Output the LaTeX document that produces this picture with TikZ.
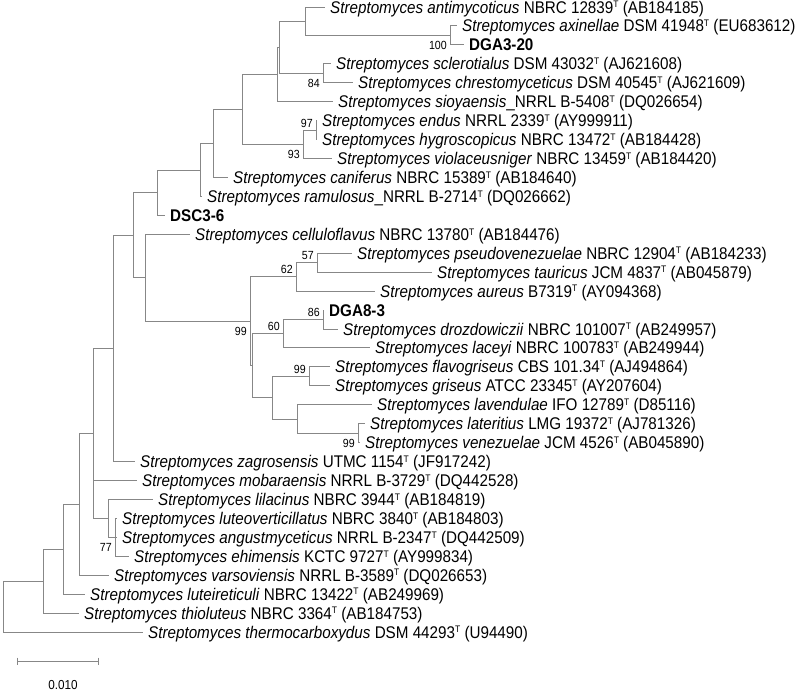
\documentclass[tikz,border=0pt]{standalone}
\usepackage{fontspec}
\setmainfont{Liberation Sans}[FakeStretch=0.9]
\newcommand\supT{\raisebox{5.3pt}{\fontsize{9.5}{10}\selectfont T}}
\newcommand\Sp[1]{\textit{Streptomyces #1}}
\definecolor{brgray}{RGB}{135,135,135}
\begin{document}
\begin{tikzpicture}[x=1pt,y=-1pt,
  br/.style={draw=brgray,line width=1pt},
  leaf/.style={anchor=base west,inner sep=0pt,yshift=-6pt,font=\fontsize{16.9}{18}\selectfont},
  bsa/.style={anchor=base east,inner sep=0pt,xshift=-3pt,yshift=3pt,font=\fontsize{11.8}{13}\selectfont},
  bsb/.style={anchor=base east,inner sep=0pt,xshift=-3pt,yshift=-14pt,font=\fontsize{11.8}{13}\selectfont}]
\path[use as bounding box] (0,0) rectangle (795,691);
% ---- leaves: line end coordinate + text
\coordinate (l0) at (325,7);      \node[leaf] (t0) at (330,7) {\Sp{antimycoticus} NBRC 12839\supT{} (AB184185)};
\coordinate (l1) at (457,25.9);   \node[leaf] (t1) at (462,25.9) {\Sp{axinellae} DSM 41948\supT{} (EU683612)};
\coordinate (l2) at (464,44.9);   \node[leaf] (t2) at (469,44.9) {\textbf{DGA3-20}};
\coordinate (l3) at (331,63.8);   \node[leaf] (t3) at (336,63.8) {\Sp{sclerotialus} DSM 43032\supT{} (AJ621608)};
\coordinate (l4) at (353,82.8);   \node[leaf] (t4) at (358,82.8) {\Sp{chrestomyceticus} DSM 40545\supT{} (AJ621609)};
\coordinate (l5) at (333,101.7);  \node[leaf] (t5) at (338,101.7) {\Sp{sioyaensis}\_NRRL B-5408\supT{} (DQ026654)};
\coordinate (l6) at (317,120.6);  \node[leaf] (t6) at (322,120.6) {\Sp{endus} NRRL 2339\supT{} (AY999911)};
\coordinate (l7) at (317,139.6);  \node[leaf] (t7) at (322,139.6) {\Sp{hygroscopicus} NBRC 13472\supT{} (AB184428)};
\coordinate (l8) at (332,158.5);  \node[leaf] (t8) at (337,158.5) {\Sp{violaceusniger} NBRC 13459\supT{} (AB184420)};
\coordinate (l9) at (228,177.5);  \node[leaf] (t9) at (233,177.5) {\Sp{caniferus} NBRC 15389\supT{} (AB184640)};
\coordinate (l10) at (202,196.4); \node[leaf] (t10) at (207,196.4) {\Sp{ramulosus}\_NRRL B-2714\supT{} (DQ026662)};
\coordinate (l11) at (165,215.3); \node[leaf] (t11) at (170,215.3) {\textbf{DSC3-6}};
\coordinate (l12) at (190,234.3); \node[leaf] (t12) at (195,234.3) {\Sp{celluloflavus} NBRC 13780\supT{} (AB184476)};
\coordinate (l13) at (352,253.2); \node[leaf] (t13) at (357,253.2) {\Sp{pseudovenezuelae} NBRC 12904\supT{} (AB184233)};
\coordinate (l14) at (432,272.2); \node[leaf] (t14) at (437,272.2) {\Sp{tauricus} JCM 4837\supT{} (AB045879)};
\coordinate (l15) at (375,291.1); \node[leaf] (t15) at (380,291.1) {\Sp{aureus} B7319\supT{} (AY094368)};
\coordinate (l16) at (324,310);   \node[leaf] (t16) at (329,310) {\textbf{DGA8-3}};
\coordinate (l17) at (338,329);   \node[leaf] (t17) at (343,329) {\Sp{drozdowiczii} NBRC 101007\supT{} (AB249957)};
\coordinate (l18) at (370,347.9); \node[leaf] (t18) at (375,347.9) {\Sp{laceyi} NBRC 100783\supT{} (AB249944)};
\coordinate (l19) at (330,366.9); \node[leaf] (t19) at (335,366.9) {\Sp{flavogriseus} CBS 101.34\supT{} (AJ494864)};
\coordinate (l20) at (330,385.8); \node[leaf] (t20) at (335,385.8) {\Sp{griseus} ATCC 23345\supT{} (AY207604)};
\coordinate (l21) at (372,404.7); \node[leaf] (t21) at (377,404.7) {\Sp{lavendulae} IFO 12789\supT{} (D85116)};
\coordinate (l22) at (365,423.7); \node[leaf] (t22) at (370,423.7) {\Sp{lateritius} LMG 19372\supT{} (AJ781326)};
\coordinate (l23) at (360,442.6); \node[leaf] (t23) at (365,442.6) {\Sp{venezuelae} JCM 4526\supT{} (AB045890)};
\coordinate (l24) at (135,461.6); \node[leaf] (t24) at (140,461.6) {\Sp{zagrosensis} UTMC 1154\supT{} (JF917242)};
\coordinate (l25) at (137,480.5); \node[leaf] (t25) at (142,480.5) {\Sp{mobaraensis} NRRL B-3729\supT{} (DQ442528)};
\coordinate (l26) at (153,499.4); \node[leaf] (t26) at (158,499.4) {\Sp{lilacinus} NBRC 3944\supT{} (AB184819)};
\coordinate (l27) at (117,518.4); \node[leaf] (t27) at (122,518.4) {\Sp{luteoverticillatus} NBRC 3840\supT{} (AB184803)};
\coordinate (l28) at (117,537.3); \node[leaf] (t28) at (122,537.3) {\Sp{angustmyceticus} NRRL B-2347\supT{} (DQ442509)};
\coordinate (l29) at (129,556.3); \node[leaf] (t29) at (134,556.3) {\Sp{ehimensis} KCTC 9727\supT{} (AY999834)};
\coordinate (l30) at (109,575.2); \node[leaf] (t30) at (114,575.2) {\Sp{varsoviensis} NRRL B-3589\supT{} (DQ026653)};
\coordinate (l31) at (85,594.1);  \node[leaf] (t31) at (90,594.1) {\Sp{luteireticuli} NBRC 13422\supT{} (AB249969)};
\coordinate (l32) at (79,613.1);  \node[leaf] (t32) at (84,613.1) {\Sp{thioluteus} NBRC 3364\supT{} (AB184753)};
\coordinate (l33) at (143,632);   \node[leaf] (t33) at (148,632) {\Sp{thermocarboxydus} DSM 44293\supT{} (U94490)};
% ---- internal nodes
\coordinate (nAa) at (450,35.4);
\coordinate (nA) at (305,21.2);
\coordinate (nSc) at (323,73.3);
\coordinate (nB) at (279,47.25);
\coordinate (nC) at (277,74.5);
\coordinate (nEH) at (316,130.1);
\coordinate (nEHV) at (303,144.3);
\coordinate (nD) at (242,109.4);
\coordinate (nE) at (213,143.5);
\coordinate (nF) at (200,170);
\coordinate (nG) at (157,192.6);
\coordinate (nP57) at (317,262.7);
\coordinate (nP) at (296,276.9);
\coordinate (nS) at (323,319.5);
\coordinate (nR) at (283,333.7);
\coordinate (nU) at (309,376.4);
\coordinate (nW) at (358,433.2);
\coordinate (nV) at (297,419);
\coordinate (nT) at (272,397.7);
\coordinate (nQ) at (252,365.7);
\coordinate (nO) at (250,321.3);
\coordinate (nN) at (145,277.8);
\coordinate (nH) at (133,235.2);
\coordinate (nI) at (113,348.4);
\coordinate (nX) at (115,537.3);
\coordinate (nLil) at (108,518.4);
\coordinate (nJ) at (93,433.4);
\coordinate (nK) at (79,504.3);
\coordinate (nL) at (63,549.2);
\coordinate (nM) at (43,581.2);
\coordinate (nR0) at (3,606.6);
% ---- branches
\draw[br] (nAa) |- (l1);  \draw[br] (nAa) |- (l2);
\draw[br] (nA) |- (l0);   \draw[br] (nA) |- (nAa);
\draw[br] (nSc) |- (l3);  \draw[br] (nSc) |- (l4);
\draw[br] (nB) |- (nA);   \draw[br] (nB) |- (nSc);
\draw[br] (nC) |- (nB);   \draw[br] (nC) |- (l5);
\draw[br] (nEH) |- (l6);  \draw[br] (nEH) |- (l7);
\draw[br] (nEHV) |- (nEH); \draw[br] (nEHV) |- (l8);
\draw[br] (nD) |- (nC);   \draw[br] (nD) |- (nEHV);
\draw[br] (nE) |- (nD);   \draw[br] (nE) |- (l9);
\draw[br] (nF) |- (nE);   \draw[br] (nF) |- (l10);
\draw[br] (nG) |- (nF);   \draw[br] (nG) |- (l11);
\draw[br] (nP57) |- (l13); \draw[br] (nP57) |- (l14);
\draw[br] (nP) |- (nP57); \draw[br] (nP) |- (l15);
\draw[br] (nS) |- (l16);  \draw[br] (nS) |- (l17);
\draw[br] (nR) |- (nS);   \draw[br] (nR) |- (l18);
\draw[br] (nU) |- (l19);  \draw[br] (nU) |- (l20);
\draw[br] (nW) |- (l22);  \draw[br] (nW) |- (l23);
\draw[br] (nV) |- (l21);  \draw[br] (nV) |- (nW);
\draw[br] (nT) |- (nU);   \draw[br] (nT) |- (nV);
\draw[br] (nQ) |- (nR);   \draw[br] (nQ) |- (nT);
\draw[br] (nO) |- (nP);   \draw[br] (nO) |- (nQ);
\draw[br] (nN) |- (l12);  \draw[br] (nN) |- (nO);
\draw[br] (nH) |- (nG);   \draw[br] (nH) |- (nN);
\draw[br] (nI) |- (nH);   \draw[br] (nI) |- (l24);
\draw[br] (nX) |- (l27);  \draw[br] (nX) |- (l28); \draw[br] (nX) |- (l29);
\draw[br] (nLil) |- (l26); \draw[br] (nLil) |- (nX);
\draw[br] (nJ) |- (nI);   \draw[br] (nJ) |- (l25); \draw[br] (nJ) |- (nLil);
\draw[br] (nK) |- (nJ);   \draw[br] (nK) |- (l30);
\draw[br] (nL) |- (nK);   \draw[br] (nL) |- (l31);
\draw[br] (nM) |- (nL);   \draw[br] (nM) |- (l32);
\draw[br] (nR0) |- (nM);  \draw[br] (nR0) |- (l33);
% ---- bootstrap values
\node[bsb] (b1) at (nAa) {100};
\node[bsb] (b2) at (nSc) {84};
\node[bsa] (b3) at (nEH) {97};
\node[bsb] (b4) at (nEHV) {93};
\node[bsa] (b5) at (nP57) {57};
\node[bsa] (b6) at (nP) {62};
\node[bsa] (b7) at (nS) {86};
\node[bsa] (b8) at (nR) {60};
\node[bsb] (b9) at (nO) {99};
\node[bsa] (b10) at (nU) {99};
\node[bsb] (b11) at (nW) {99};
\node[bsb] (b12) at (nX) {77};
% ---- scale bar
\coordinate (sb1) at (17,661);
\coordinate (sb2) at (98,661);
\draw[br] (sb1) -- (sb2);
\draw[br] ([yshift=3.5pt]sb1) -- ([yshift=-3.5pt]sb1);
\draw[br] ([yshift=3.5pt]sb2) -- ([yshift=-3.5pt]sb2);
\node[font=\fontsize{13}{14}\selectfont,inner sep=0pt] (sbl) at (63,685) {0.010};
\end{tikzpicture}
\end{document}
